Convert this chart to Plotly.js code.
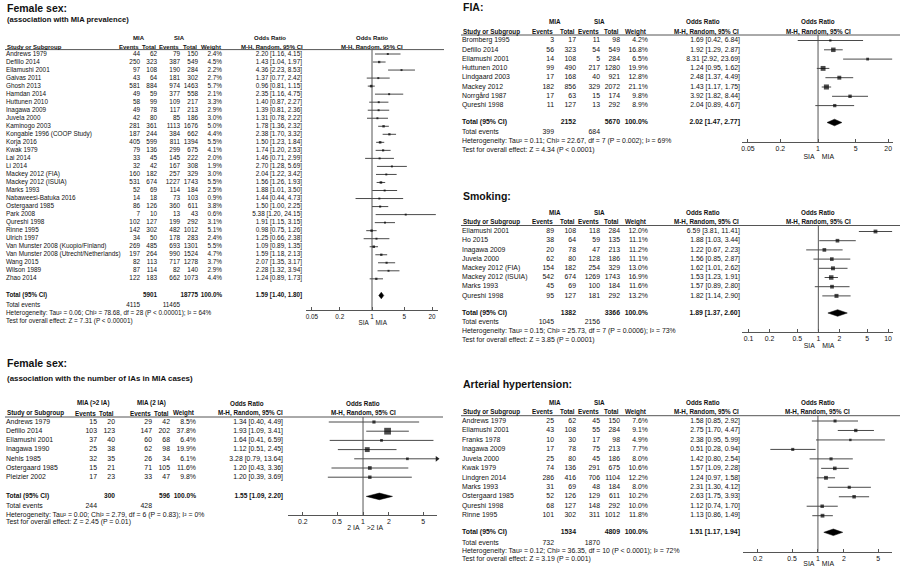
<!DOCTYPE html>
<html><head><meta charset="utf-8">
<script src="https://cdn.plot.ly/plotly-3.0.1.min.js"></script>
<style>html,body{margin:0;padding:0;background:#fff}#chart{width:900px;height:569px}</style>
</head><body><div id="chart"></div>
<script>
// ================= DATA =================
// Panel 1: Female sex (association with MIA prevalence)
const p1Title = 'Female sex:';
const p1Subtitle = '(association with MIA prevalence)';
const p1Groups = ['MIA', 'SIA'];
const p1Studies = ['Andrews 1979','Defillo 2014','Ellamushi 2001','Gaivas 2011','Ghosh 2013','Hamdan 2014','Huttunen 2010','Inagawa 2009','Juvela 2000','Kaminogo 2003','Kongable 1996 (COOP Study)','Korja 2016','Kwak 1979','Lai 2014','Li 2014','Mackey 2012 (FIA)','Mackey 2012 (ISUIA)','Marks 1993','Nabaweesi-Batuka 2016','Ostergaard 1985','Park 2008','Qureshi 1998','Rinne 1995','Ulrich 1997','Van Munster 2008 (Kuopio/Finland)','Van Munster 2008 (Utrecht/Netherlands)','Wang 2015','Wilson 1989','Zhao 2014'];
const p1MiaEvents = [44,250,97,43,581,49,58,49,42,281,187,405,79,33,32,160,531,52,14,86,7,102,142,34,269,197,82,87,122];
const p1MiaTotal  = [62,323,108,64,884,59,99,78,80,361,244,599,136,45,42,182,674,69,18,126,10,127,302,50,485,264,113,114,183];
const p1SiaEvents = [79,387,190,181,974,377,109,117,85,1113,384,811,299,145,167,257,1227,114,73,360,13,199,482,178,693,990,717,82,662];
const p1SiaTotal  = [150,549,284,302,1463,558,217,213,186,1676,662,1394,675,222,308,329,1743,184,103,611,43,292,1012,283,1301,1524,1278,140,1073];
const p1Weight = [2.4,4.5,2.2,2.7,5.7,2.1,3.3,2.9,3.0,5.0,4.4,5.5,4.1,2.0,1.9,3.0,5.5,2.5,0.9,3.8,0.6,3.1,5.1,2.4,5.5,4.7,3.7,2.9,4.4];
const p1OR = [2.20,1.43,4.36,1.37,0.96,2.35,1.40,1.39,1.31,1.78,2.38,1.50,1.74,1.46,2.70,2.04,1.56,1.88,1.44,1.50,5.38,1.91,0.98,1.25,1.09,1.59,2.07,2.28,1.24];
const p1Lo = [1.16,1.04,2.23,0.77,0.81,1.16,0.87,0.81,0.78,1.36,1.70,1.23,1.20,0.71,1.28,1.22,1.26,1.01,0.44,1.00,1.20,1.15,0.75,0.66,0.89,1.18,1.35,1.32,0.89];
const p1Hi = [4.15,1.97,8.53,2.42,1.15,4.75,2.27,2.36,2.22,2.32,3.32,1.84,2.53,2.99,5.69,3.42,1.93,3.50,4.73,2.25,24.15,3.15,1.26,2.38,1.35,2.13,3.17,3.94,1.73];
const p1Totals = ['5901','18775','100.0%'];
const p1Pooled = [1.59,1.40,1.80];
const p1TotalEvents = ['4115','11465'];
const p1Het = 'Heterogeneity: Tau² = 0.06; Chi² = 78.68, df = 28 (P < 0.00001); I² = 64%';
const p1Test = 'Test for overall effect: Z = 7.31 (P < 0.00001)';
const p1Ticks = [0.05,0.2,1,5,20];
const p1TickText = ['0.05','0.2','1','5','20'];
const p1Favours = ['SIA','MIA'];

// Panel 2: Female sex (association with the number of IAs in MIA cases)
const p2Title = 'Female sex:';
const p2Subtitle = '(association with the number of IAs in MIA cases)';
const p2Groups = ['MIA (>2 IA)', 'MIA (2 IA)'];
const p2Studies = ['Andrews 1979','Defillo 2014','Ellamushi 2001','Inagawa 1990','Nehls 1985','Ostergaard 1985','Pleizier 2002'];
const p2MiaEvents = [15,103,37,25,32,15,17];
const p2MiaTotal  = [20,123,40,38,35,21,23];
const p2SiaEvents = [29,147,60,62,26,71,33];
const p2SiaTotal  = [42,202,68,98,34,105,47];
const p2Weight = [8.5,37.8,6.4,19.9,6.1,11.6,9.8];
const p2OR = [1.34,1.93,1.64,1.12,3.28,1.20,1.20];
const p2Lo = [0.40,1.09,0.41,0.51,0.79,0.43,0.39];
const p2Hi = [4.49,3.41,6.59,2.45,13.64,3.36,3.69];
const p2Totals = ['300','596','100.0%'];
const p2Pooled = [1.55,1.09,2.20];
const p2TotalEvents = ['244','428'];
const p2Het = 'Heterogeneity: Tau² = 0.00; Chi² = 2.79, df = 6 (P = 0.83); I² = 0%';
const p2Test = 'Test for overall effect: Z = 2.45 (P = 0.01)';
const p2Ticks = [0.2,0.5,1,2,5];
const p2TickText = ['0.2','0.5','1','2','5'];
const p2Favours = ['2 IA','>2 IA'];

// Panel 3: FIA
const p3Title = 'FIA:';
const p3Groups = ['MIA', 'SIA'];
const p3Studies = ['Bromberg 1995','Defillo 2014','Ellamushi 2001','Huttunen 2010','Lindgaard 2003','Mackey 2012','Norrgård 1987','Qureshi 1998'];
const p3MiaEvents = [3,56,14,99,17,182,17,11];
const p3MiaTotal  = [17,323,108,490,168,856,63,127];
const p3SiaEvents = [11,54,5,217,40,329,15,13];
const p3SiaTotal  = [98,549,284,1280,921,2072,174,292];
const p3Weight = [4.2,16.8,6.5,19.9,12.8,21.1,9.8,8.9];
const p3OR = [1.69,1.92,8.31,1.24,2.48,1.43,3.92,2.04];
const p3Lo = [0.42,1.29,2.92,0.95,1.37,1.17,1.82,0.89];
const p3Hi = [6.84,2.87,23.69,1.62,4.49,1.75,8.44,4.67];
const p3Totals = ['2152','5670','100.0%'];
const p3Pooled = [2.02,1.47,2.77];
const p3TotalEvents = ['399','684'];
const p3Het = 'Heterogeneity: Tau² = 0.11; Chi² = 22.67, df = 7 (P = 0.002); I² = 69%';
const p3Test = 'Test for overall effect: Z = 4.34 (P < 0.0001)';
const p3Ticks = [0.05,0.2,1,5,20];
const p3TickText = ['0.05','0.2','1','5','20'];
const p3Favours = ['SIA','MIA'];

// Panel 4: Smoking
const p4Title = 'Smoking:';
const p4Groups = ['MIA', 'SIA'];
const p4Studies = ['Ellamushi 2001','Ho 2015','Inagawa 2009','Juvela 2000','Mackey 2012 (FIA)','Mackey 2012 (ISUIA)','Marks 1993','Qureshi 1998'];
const p4MiaEvents = [89,38,20,62,154,542,45,95];
const p4MiaTotal  = [108,64,78,80,182,674,69,127];
const p4SiaEvents = [118,59,47,128,254,1269,100,181];
const p4SiaTotal  = [284,135,213,186,329,1743,184,292];
const p4Weight = [12.0,11.1,11.2,11.1,13.0,16.9,11.6,13.2];
const p4OR = [6.59,1.88,1.22,1.56,1.62,1.53,1.57,1.82];
const p4Lo = [3.81,1.03,0.67,0.85,1.01,1.23,0.89,1.14];
const p4Hi = [11.41,3.44,2.23,2.87,2.62,1.91,2.80,2.90];
const p4Totals = ['1382','3366','100.0%'];
const p4Pooled = [1.89,1.37,2.60];
const p4TotalEvents = ['1045','2156'];
const p4Het = 'Heterogeneity: Tau² = 0.15; Chi² = 25.73, df = 7 (P = 0.0006); I² = 73%';
const p4Test = 'Test for overall effect: Z = 3.85 (P = 0.0001)';
const p4Ticks = [0.1,0.2,0.5,1,2,5,10];
const p4TickText = ['0.1','0.2','0.5','1','2','5','10'];
const p4Favours = ['SIA','MIA'];

// Panel 5: Arterial hypertension
const p5Title = 'Arterial hypertension:';
const p5Groups = ['MIA', 'SIA'];
const p5Studies = ['Andrews 1979','Ellamushi 2001','Franks 1978','Inagawa 2009','Juvela 2000','Kwak 1979','Lindgren 2014','Marks 1993','Ostergaard 1985','Qureshi 1998','Rinne 1995'];
const p5MiaEvents = [25,43,10,17,25,74,286,31,52,68,101];
const p5MiaTotal  = [62,108,30,78,80,136,416,69,126,127,302];
const p5SiaEvents = [45,55,17,75,45,291,706,48,129,148,311];
const p5SiaTotal  = [150,284,98,213,186,675,1104,184,611,292,1012];
const p5Weight = [7.6,9.1,4.9,7.7,8.0,10.6,12.2,8.0,10.2,10.0,11.8];
const p5OR = [1.58,2.75,2.38,0.51,1.42,1.57,1.24,2.31,2.63,1.12,1.13];
const p5Lo = [0.85,1.70,0.95,0.28,0.80,1.09,0.97,1.30,1.75,0.74,0.86];
const p5Hi = [2.92,4.47,5.99,0.94,2.54,2.28,1.58,4.12,3.93,1.70,1.49];
const p5Totals = ['1534','4809','100.0%'];
const p5Pooled = [1.51,1.17,1.94];
const p5TotalEvents = ['732','1870'];
const p5Het = 'Heterogeneity: Tau² = 0.12; Chi² = 36.35, df = 10 (P < 0.0001); I² = 72%';
const p5Test = 'Test for overall effect: Z = 3.19 (P = 0.001)';
const p5Ticks = [0.2,0.5,1,2,5];
const p5TickText = ['0.2','0.5','1','2','5'];
const p5Favours = ['SIA','MIA'];

// ================= LAYOUT / DRAWING =================
const W = 900, H = 569;
const FONT = '"Liberation Sans", Arial, Helvetica, sans-serif';
const TXT = '#111';
const GREY = '#555';

const rightCols = {study:462, ev1:554, tot1:576, ev2:600, tot2:620, wt:648, or:740};
const rightFonts = {fs:6.9, hfs:6.3, tfs:6.9};
const panels = [
  {D:{title:p1Title, sub:p1Subtitle, groups:p1Groups, studies:p1Studies, e1:p1MiaEvents, t1:p1MiaTotal, e2:p1SiaEvents, t2:p1SiaTotal, w:p1Weight, or:p1OR, lo:p1Lo, hi:p1Hi, totals:p1Totals, pooled:p1Pooled, tev:p1TotalEvents, het:p1Het, test:p1Test, ticks:p1Ticks, tickText:p1TickText, fav:p1Favours},
   L:{top:0,bottom:336,py0:54,dy:8.03,titlePy:8,subPy:19.5,subFs:7.6,h1:38,h2:46.8,line:49.6,total:295.5,events:305,het:313,test:321,axis:310,favPy:323,lineX:[5,444],fx:[306,438],r:[-1.43,1.43],
      c:{study:6,ev1:140,tot1:157,ev2:180,tot2:198,wt:222,or:302}, grp:[139,179], orHead:270, mh:{x:304,a:'right'}, f:{fs:6.4, hfs:6.0, tfs:6.3}}},
  {D:{title:p2Title, sub:p2Subtitle, groups:p2Groups, studies:p2Studies, e1:p2MiaEvents, t1:p2MiaTotal, e2:p2SiaEvents, t2:p2SiaTotal, w:p2Weight, or:p2OR, lo:p2Lo, hi:p2Hi, totals:p2Totals, pooled:p2Pooled, tev:p2TotalEvents, het:p2Het, test:p2Test, ticks:p2Ticks, tickText:p2TickText, fav:p2Favours},
   L:{top:338,bottom:569,py0:422,dy:9.2,titlePy:363,subPy:378,subFs:7.9,h1:403,h2:413,line:417,total:496.4,events:506.5,het:514.8,test:522.6,axis:515,favPy:528,lineX:[5,443],fx:[288,437],r:[-0.872,0.86],
      c:{study:6,ev1:97,tot1:115,ev2:152,tot2:170,wt:196,or:283}, grp:[93,151], orHead:247, mh:{x:250,a:'center'}, f:{fs:6.9, hfs:6.3, tfs:6.6}}},
  {D:{title:p3Title, groups:p3Groups, studies:p3Studies, e1:p3MiaEvents, t1:p3MiaTotal, e2:p3SiaEvents, t2:p3SiaTotal, w:p3Weight, or:p3OR, lo:p3Lo, hi:p3Hi, totals:p3Totals, pooled:p3Pooled, tev:p3TotalEvents, het:p3Het, test:p3Test, ticks:p3Ticks, tickText:p3TickText, fav:p3Favours},
   L:{top:0,bottom:186,py0:40.5,dy:9.3,titlePy:7,h1:21.7,h2:31.5,line:35,total:122.5,events:132,het:141,test:150,axis:142,favPy:157,lineX:[461,900],fx:[742,893],r:[-1.41,1.39],
      c:rightCols, grp:[555,599], orHead:703, mh:{x:706,a:'center'}, f:rightFonts}},
  {D:{title:p4Title, groups:p4Groups, studies:p4Studies, e1:p4MiaEvents, t1:p4MiaTotal, e2:p4SiaEvents, t2:p4SiaTotal, w:p4Weight, or:p4OR, lo:p4Lo, hi:p4Hi, totals:p4Totals, pooled:p4Pooled, tev:p4TotalEvents, het:p4Het, test:p4Test, ticks:p4Ticks, tickText:p4TickText, fav:p4Favours},
   L:{top:188,bottom:353,py0:231.5,dy:9.2,titlePy:196,h1:212.5,h2:221.5,line:225.5,total:313,events:322,het:331,test:340,axis:331.5,favPy:346,lineX:[461,900],fx:[742,893],r:[-1.094,1.07],
      c:rightCols, grp:[555,599], orHead:703, mh:{x:706,a:'center'}, f:rightFonts}},
  {D:{title:p5Title, groups:p5Groups, studies:p5Studies, e1:p5MiaEvents, t1:p5MiaTotal, e2:p5SiaEvents, t2:p5SiaTotal, w:p5Weight, or:p5OR, lo:p5Lo, hi:p5Hi, totals:p5Totals, pooled:p5Pooled, tev:p5TotalEvents, het:p5Het, test:p5Test, ticks:p5Ticks, tickText:p5TickText, fav:p5Favours},
   L:{top:355,bottom:569,py0:421,dy:9.47,titlePy:383.5,h1:402.7,h2:411.7,line:415.7,total:532.3,events:543,het:551.7,test:559.5,axis:551.7,favPy:564.5,lineX:[461,900],fx:[743,892],r:[-0.87,0.86],
      c:rightCols, grp:[555,599], orHead:703, mh:{x:706,a:'center'}, f:rightFonts}}
];

const traces = [];
const annotations = [];
const shapes = [];
const layout = {
  width: W, height: H, margin: {l:0, r:0, t:0, b:0, pad:0},
  paper_bgcolor: '#fff', plot_bgcolor: 'rgba(0,0,0,0)', showlegend: false,
  font: {family: FONT, color: TXT, size: 7},
  xaxis: {domain:[0,1], range:[0,W], visible:false, fixedrange:true, anchor:'y'}
};

const fmt2 = v => v.toFixed(2);
const ciText = (o,l,h) => fmt2(o) + ' [' + fmt2(l) + ', ' + fmt2(h) + ']';
const B = t => '<b>' + t + '</b>';

function textTrace(xa, ya, xs, ys, texts, pos, size, bold) {
  return {type:'scatter', mode:'text', xaxis:xa, yaxis:ya, x:xs, y:ys,
    text: bold ? texts.map(B) : texts, textposition: pos,
    textfont:{family:FONT, size:size, color:TXT}, cliponaxis:false, hoverinfo:'skip', showlegend:false};
}
function ann(text, x, yref, y, anchor, size) {
  return {text:text, x:x, xref:'x', y:y, yref:yref, xanchor:anchor, yanchor:'middle', showarrow:false,
    borderpad:0, font:{family:FONT, size:size, color:TXT}};
}

panels.forEach((P, i) => {
  const k = i + 1;
  const D = P.D, L = P.L, F = L.f;
  const ya = k === 1 ? 'y' : 'y' + k;
  const yKey = k === 1 ? 'yaxis' : 'yaxis' + k;
  const fx = 'x' + (k + 1), fxKey = 'xaxis' + (k + 1);
  const idx = py => (py - L.py0) / L.dy;
  layout[yKey] = {domain:[1 - L.bottom / H, 1 - L.top / H], range:[idx(L.bottom), idx(L.top)],
    visible:false, fixedrange:true, anchor:'x'};
  layout[fxKey] = {type:'log', domain:[L.fx[0] / W, L.fx[1] / W], range:L.r, anchor:'free',
    position: 1 - L.axis / H, showgrid:false, zeroline:false, showline:true, linecolor:GREY, linewidth:1,
    ticks:'inside', ticklen:3, tickwidth:1, tickcolor:GREY, tickmode:'array', tickvals:D.ticks, ticktext:D.tickText,
    tickfont:{family:FONT, size:F.fs, color:TXT}, fixedrange:true};
  const centerPx = L.fx[0] + (0 - L.r[0]) / (L.r[1] - L.r[0]) * (L.fx[1] - L.fx[0]);
  const xmax = Math.pow(10, L.r[1]), xmin = Math.pow(10, L.r[0]);

  // titles
  annotations.push(ann(B(D.title), L.c.study, ya, idx(L.titlePy), 'left', 10.5));
  if (D.sub) annotations.push(ann(B(D.sub), L.c.study, ya, idx(L.subPy), 'left', L.subFs));
  // header row 1
  annotations.push(ann(B(D.groups[0]), L.grp[0], ya, idx(L.h1), 'center', F.hfs));
  annotations.push(ann(B(D.groups[1]), L.grp[1], ya, idx(L.h1), 'center', F.hfs));
  annotations.push(ann(B('Odds Ratio'), L.orHead, ya, idx(L.h1), 'center', F.hfs));
  annotations.push(ann(B('Odds Ratio'), centerPx, ya, idx(L.h1), 'center', F.hfs));
  // header row 2
  annotations.push(ann(B('Study or Subgroup'), L.c.study, ya, idx(L.h2), 'left', F.hfs));
  [['Events', L.c.ev1], ['Total', L.c.tot1], ['Events', L.c.ev2], ['Total', L.c.tot2], ['Weight', L.c.wt]]
    .forEach(h => annotations.push(ann(B(h[0]), h[1], ya, idx(L.h2), 'right', F.hfs)));
  annotations.push(ann(B('M-H, Random, 95% CI'), L.mh.x, ya, idx(L.h2), L.mh.a, F.hfs));
  annotations.push(ann(B('M-H, Random, 95% CI'), centerPx, ya, idx(L.h2), 'center', F.hfs));
  shapes.push({type:'line', xref:'x', yref:ya, x0:L.lineX[0], x1:L.lineX[1], y0:idx(L.line), y1:idx(L.line),
    line:{color:GREY, width:1}});

  // study rows
  const rows = D.studies.map((s, j) => j);
  const col = v => rows.map(() => v);
  traces.push(textTrace('x', ya, col(L.c.study), rows, D.studies, 'middle right', F.fs));
  traces.push(textTrace('x', ya, col(L.c.ev1), rows, D.e1.map(String), 'middle left', F.fs));
  traces.push(textTrace('x', ya, col(L.c.tot1), rows, D.t1.map(String), 'middle left', F.fs));
  traces.push(textTrace('x', ya, col(L.c.ev2), rows, D.e2.map(String), 'middle left', F.fs));
  traces.push(textTrace('x', ya, col(L.c.tot2), rows, D.t2.map(String), 'middle left', F.fs));
  traces.push(textTrace('x', ya, col(L.c.wt), rows, D.w.map(v => v.toFixed(1) + '%'), 'middle left', F.fs));
  traces.push(textTrace('x', ya, col(L.c.or), rows, rows.map(j => ciText(D.or[j], D.lo[j], D.hi[j])), 'middle left', F.fs));

  // totals
  const tY = idx(L.total), eY = idx(L.events);
  traces.push(textTrace('x', ya, [L.c.study], [tY], ['Total (95% CI)'], 'middle right', F.tfs, true));
  traces.push(textTrace('x', ya, [L.c.tot1, L.c.tot2, L.c.wt], [tY, tY, tY], D.totals, 'middle left', F.tfs, true));
  traces.push(textTrace('x', ya, [L.c.or], [tY], [ciText(D.pooled[0], D.pooled[1], D.pooled[2])], 'middle left', F.tfs, true));
  traces.push(textTrace('x', ya, [L.c.study], [eY], ['Total events'], 'middle right', F.fs));
  traces.push(textTrace('x', ya, [L.c.ev1, L.c.ev2], [eY, eY], D.tev, 'middle left', F.fs));
  traces.push(textTrace('x', ya, [L.c.study, L.c.study], [idx(L.het), idx(L.test)], [D.het, D.test], 'middle right', F.fs));

  // forest: vertical line of no effect
  traces.push({type:'scatter', mode:'lines', xaxis:fx, yaxis:ya, x:[1, 1], y:[idx(L.line), idx(L.axis)],
    line:{color:GREY, width:1}, hoverinfo:'skip', cliponaxis:false});
  // CI lines
  const cx = [], cy = [], ax = [], ay = [];
  rows.forEach(j => {
    const lo = Math.max(D.lo[j], xmin), hi = Math.min(D.hi[j], xmax);
    cx.push(lo, hi, null); cy.push(j, j, null);
    if (D.hi[j] > xmax) { ax.push(hi); ay.push(j); }
  });
  traces.push({type:'scatter', mode:'lines', xaxis:fx, yaxis:ya, x:cx, y:cy, line:{color:'#4a4a4a', width:1},
    hoverinfo:'skip', connectgaps:false});
  if (ax.length) traces.push({type:'scatter', mode:'markers', xaxis:fx, yaxis:ya, x:ax, y:ay,
    marker:{symbol:'triangle-right', size:5, color:'#222'}, hoverinfo:'skip', cliponaxis:false});
  // point estimates
  traces.push({type:'scatter', mode:'markers', xaxis:fx, yaxis:ya, x:D.or, y:rows,
    marker:{symbol:'square', size:D.w.map(w => Math.max(2, 1.1 * Math.sqrt(w))), color:'#000', line:{width:0}},
    hoverinfo:'skip'});
  // pooled diamond
  const hh = 3.3 / L.dy;
  traces.push({type:'scatter', mode:'lines', xaxis:fx, yaxis:ya,
    x:[D.pooled[1], D.pooled[0], D.pooled[2], D.pooled[0], D.pooled[1]],
    y:[tY, tY - hh, tY, tY + hh, tY], fill:'toself', fillcolor:'#000', line:{color:'#000', width:0.5}, hoverinfo:'skip'});
  // favours labels
  traces.push(textTrace(fx, ya, [1, 1], [idx(L.favPy), idx(L.favPy)], [D.fav[0] + '  ', '  ' + D.fav[1]],
    ['middle left', 'middle right'], F.fs));
});

layout.annotations = annotations;
layout.shapes = shapes;

Plotly.newPlot('chart', traces, layout, {staticPlot:true, displayModeBar:false});
</script>
</body></html>
